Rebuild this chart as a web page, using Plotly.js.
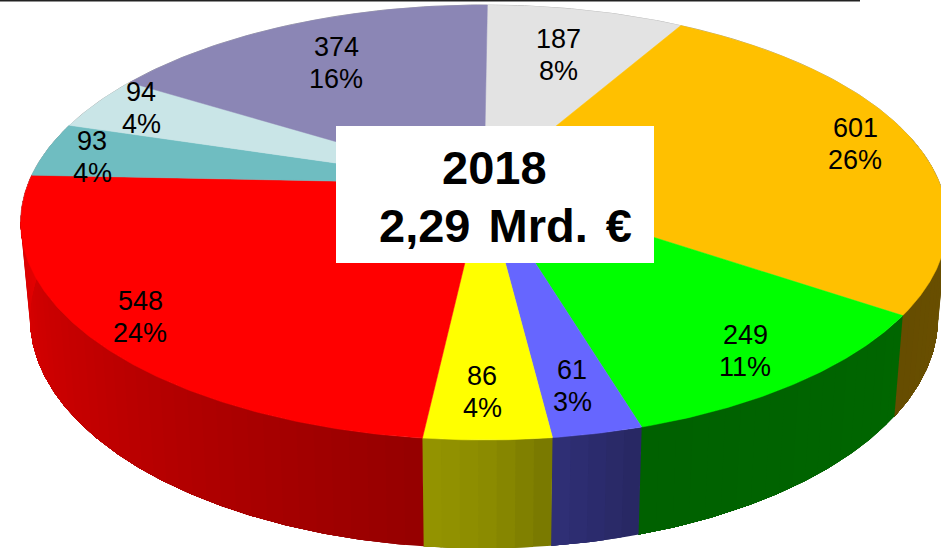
<!DOCTYPE html>
<html>
<head>
<meta charset="utf-8">
<script src="https://cdn.plot.ly/plotly-3.0.1.min.js"></script>
<style>
html,body{margin:0;padding:0;background:#fff;}
#chart{width:941px;height:548px;}
.annotation-text{word-spacing:5px;}
</style>
</head>
<body>
<div id="chart"></div>
<script>
// Values clockwise from 12 o'clock
const values = [187, 601, 249, 61, 86, 548, 93, 94, 374];
const percents = ["8%", "26%", "11%", "3%", "4%", "24%", "4%", "4%", "16%"];
const colors = ["#E3E3E3", "#FFC000", "#00FF00", "#6666FF", "#FFFF00", "#FF0000", "#6FBDC1", "#C9E5E7", "#8B86B5"];
const labelX = [558, 855, 745, 572, 482, 140, 92, 141, 336];
const labelY = [55, 144, 351, 386, 392, 317, 157, 108, 63];
const titleLines = ["2018", "2,29 Mrd. €"];

// Perspective of the disc
const CX = 484, CY = 184, A = 456, B = 210.7, K = 0.177, START = 0.5;
const DEPTH = 93, SX = 0.98, SY = 1.06;
const shadeStops = [[0,.42],[90,.42],[124,.40],[163,.38],[173,.47],[180,.55],[190,.6],[230,.76],[272,.9],[360,.9]];

function project(deg, lower) {
  const r = deg * Math.PI / 180, X = Math.sin(r), Y = -Math.cos(r), d = 1 - K * Y;
  return lower
    ? [CX + SX * A * X / d, CY + SY * B * Y / d + DEPTH]
    : [CX + A * X / d, CY + B * Y / d];
}
function shade(deg) {
  for (let i = 1; i < shadeStops.length; i++) {
    const p = shadeStops[i-1], q = shadeStops[i];
    if (deg <= q[0]) return p[1] + (q[1]-p[1]) * (deg-p[0]) / (q[0]-p[0]);
  }
  return .9;
}
function scaled(hex, f) {
  const n = parseInt(hex.slice(1), 16);
  return `rgb(${Math.round((n>>16&255)*f)},${Math.round((n>>8&255)*f)},${Math.round((n&255)*f)})`;
}

const total = values.reduce((a, b) => a + b, 0);
const wedges = [];
let acc = 0;
values.forEach((v, i) => {
  wedges.push({from: START + acc / total * 360, to: START + (acc + v) / total * 360, color: colors[i]});
  acc += v;
});

const base = {type: "scatter", mode: "lines", fill: "toself", hoverinfo: "skip", showlegend: false};
const sideTraces = [], topTraces = [];
wedges.forEach(w => {
  const n = Math.max(1, Math.ceil((w.to - w.from) / 2));
  for (let j = 0; j < n; j++) {
    const a0 = w.from + (w.to - w.from) * j / n;
    const a1 = w.from + (w.to - w.from) * (j + 1) / n;
    const mid = (a0 + a1) / 2;
    if (Math.cos(mid * Math.PI / 180) > 0.3) continue;
    const c = scaled(w.color, shade(mid));
    // each band runs on to the end of its wedge, so later bands paint over it without a seam
    const pts = [project(a0, false)];
    for (let a = a0 + 0.5; a < w.to; a += 0.5) pts.push(project(a, false));
    pts.push(project(w.to, false), project(w.to, true));
    for (let a = w.to - 0.5; a > a0; a -= 0.5) pts.push(project(a, true));
    pts.push(project(a0, true), project(a0, false));
    sideTraces.push(Object.assign({}, base, {
      x: pts.map(p => p[0]), y: pts.map(p => p[1]),
      fillcolor: c, line: {color: c, width: 0}
    }));
  }
  const xs = [CX], ys = [CY];
  for (let a = w.from; a < w.to; a += 0.5) { const p = project(a, false); xs.push(p[0]); ys.push(p[1]); }
  const e = project(w.to, false); xs.push(e[0], CX); ys.push(e[1], CY);
  topTraces.push(Object.assign({}, base, {x: xs, y: ys, fillcolor: w.color, line: {color: w.color, width: 0.5}}));
});
// faint rim along the far edge
const rimX = [], rimY = [];
for (let a = -100; a <= 100; a += 1) { const p = project(a, false); rimX.push(p[0]); rimY.push(p[1]); }
const rim = {type: "scatter", mode: "lines", x: rimX, y: rimY, hoverinfo: "skip", showlegend: false,
             line: {color: "#A8A8A8", width: 1}};

const labelFont = {family: "Liberation Sans, Arial, sans-serif", size: 27, color: "#000"};
const titleFont = {family: "Liberation Sans, Arial, sans-serif", size: 47, color: "#000"};
const annotations = [];
values.forEach((v, i) => {
  annotations.push({x: labelX[i], y: labelY[i] - 16, text: String(v), showarrow: false, font: labelFont, xref: "x", yref: "y"});
  annotations.push({x: labelX[i], y: labelY[i] + 16, text: percents[i], showarrow: false, font: labelFont, xref: "x", yref: "y"});
});
annotations.push({x: 494.5, y: 167, text: "<b>" + titleLines[0] + "</b>", showarrow: false, font: titleFont, xref: "x", yref: "y"});
annotations.push({x: 505, y: 225, text: "<b>" + titleLines[1] + "</b>", showarrow: false, font: titleFont, xref: "x", yref: "y"});

const layout = {
  width: 941, height: 548,
  margin: {l: 0, r: 0, t: 0, b: 0},
  paper_bgcolor: "#fff", plot_bgcolor: "#fff",
  xaxis: {range: [0, 941], visible: false, fixedrange: true},
  yaxis: {range: [548, 0], visible: false, fixedrange: true},
  showlegend: false,
  shapes: [
    {type: "rect", xref: "x", yref: "y", x0: 336, x1: 654, y0: 126, y1: 263, fillcolor: "#fff", line: {width: 0}, layer: "above"},
    {type: "line", xref: "x", yref: "y", x0: 0, x1: 860, y0: 0.8, y1: 0.8, line: {color: "#222", width: 1.6}, layer: "above"}
  ],
  annotations
};
Plotly.newPlot("chart", sideTraces.concat([rim], topTraces), layout, {displayModeBar: false, staticPlot: true});
</script>
</body>
</html>
